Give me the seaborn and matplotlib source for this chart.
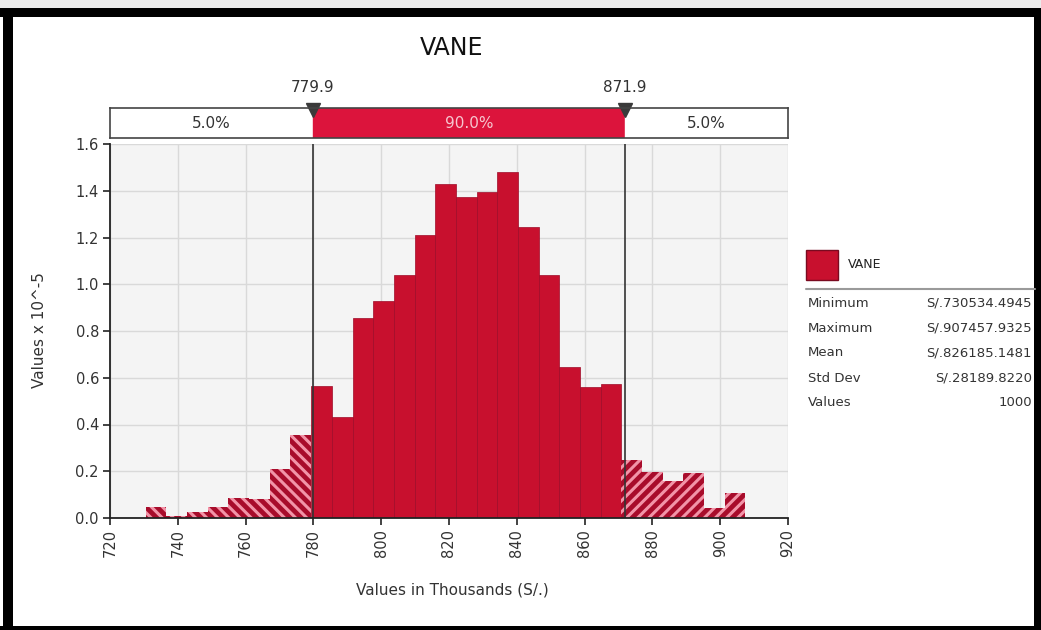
import matplotlib
matplotlib.use("Agg")
import matplotlib.pyplot as plt
from matplotlib.patches import Rectangle
from matplotlib.lines import Line2D
import seaborn as sns

bin_edges = [730.53, 736.63, 742.73, 748.84, 754.94, 761.04, 767.14, 773.24,
             779.34, 785.44, 791.54, 797.64, 803.75, 809.85, 815.95, 822.05,
             828.15, 834.25, 840.36, 846.46, 852.56, 858.66, 864.76, 870.86,
             876.97, 883.07, 889.17, 895.27, 901.37, 907.46]
densidad = [0.048, 0.008, 0.025, 0.045, 0.085, 0.080, 0.210, 0.355,
            0.565, 0.433, 0.855, 0.930, 1.040, 1.210, 1.430, 1.375,
            1.393, 1.479, 1.246, 1.040, 0.645, 0.560, 0.575, 0.250,
            0.198, 0.160, 0.191, 0.041, 0.106]
p5, p95 = 779.9, 871.9
banda_textos = ["5.0%", "90.0%", "5.0%"]
x_ticks = [720, 740, 760, 780, 800, 820, 840, 860, 880, 900, 920]
y_ticks = [0.0, 0.2, 0.4, 0.6, 0.8, 1.0, 1.2, 1.4, 1.6]
stats_nombres = ["Minimum", "Maximum", "Mean", "Std Dev", "Values"]
stats_valores = ["S/.730534.4945", "S/.907457.9325", "S/.826185.1481",
                 "S/.28189.8220", "1000"]

ROJO = "#C8102E"
ROJO_COLA = "#A80C2B"
ROJO_BANDA = "#DC143C"

sns.set_theme(style="whitegrid", rc={
    "axes.facecolor": "#F4F4F4",
    "grid.color": "#D9D9D9",
    "grid.linewidth": 1.0,
    "hatch.linewidth": 2.2,
})
plt.rcParams["font.family"] = ["DejaVu Sans"]

W, H = 1041, 630
fig = plt.figure(figsize=(W / 100, H / 100), dpi=100)


def caja(x0, y0, x1, y1):
    # coordenadas en pixeles (origen arriba a la izquierda) -> fraccion de figura
    return [x0 / W, 1 - y1 / H, (x1 - x0) / W, (y1 - y0) / H]


ax = fig.add_axes(caja(110, 144, 788, 518))
sns.histplot(x=bin_edges[:-1], weights=densidad, bins=bin_edges,
             color=ROJO, alpha=1, edgecolor="#9E0B28", linewidth=0.5, ax=ax)

for barra in ax.patches:
    centro = barra.get_x() + barra.get_width() / 2
    if centro < p5:
        barra.set_facecolor(ROJO_COLA)
        barra.set_edgecolor("#F294A8")
        barra.set_linewidth(0)
        barra.set_hatch("\\\\\\")
    elif centro > p95:
        barra.set_facecolor(ROJO_COLA)
        barra.set_edgecolor("#F294A8")
        barra.set_linewidth(0)
        barra.set_hatch("///")

ax.axvline(p5, color="#333333", lw=1.2)
ax.axvline(p95, color="#333333", lw=1.2)

ax.set_xlim(720, 920)
ax.set_ylim(0, 1.6)
ax.set_xticks(x_ticks)
ax.set_yticks(y_ticks)
ax.set_xticklabels([str(t) for t in x_ticks], rotation=90)
ax.set_yticklabels([f"{t:.1f}" for t in y_ticks])
ax.tick_params(axis="both", length=5, width=1.2, color="#222222",
               labelsize=10.5, labelcolor="#333333", pad=3)
ax.tick_params(axis="x", bottom=True)
ax.tick_params(axis="y", left=True)
ax.set_xlabel("")
ax.set_ylabel("")
for lado in ["top", "right"]:
    ax.spines[lado].set_visible(False)
for lado in ["left", "bottom"]:
    ax.spines[lado].set_color("#222222")
    ax.spines[lado].set_linewidth(1.3)

# banda de percentiles
axb = fig.add_axes(caja(110, 108, 788, 138), sharex=ax)
axb.set_facecolor("white")
axb.axvspan(720, p5, color="white")
axb.axvspan(p5, p95, color=ROJO_BANDA)
axb.axvspan(p95, 920, color="white")
axb.set_ylim(0, 1)
axb.grid(False)
axb.tick_params(left=False, bottom=False, labelleft=False, labelbottom=False)
for lado in axb.spines.values():
    lado.set_color("#444444")
    lado.set_linewidth(1.2)
axb.text((720 + p5) / 2, 0.5, banda_textos[0], ha="center", va="center",
         fontsize=11, color="#333333")
axb.text((p5 + p95) / 2, 0.5, banda_textos[1], ha="center", va="center",
         fontsize=11, color="#F6C6CF")
axb.text((p95 + 920) / 2, 0.5, banda_textos[2], ha="center", va="center",
         fontsize=11, color="#333333")
for p in (p5, p95):
    axb.plot(p, 0.95, marker="v", ms=10, color="#3A3A3A", clip_on=False)
    axb.text(p, 1.7, f"{p:.1f}", ha="center", va="center", fontsize=11,
             color="#333333")

fig.text(452 / W, 1 - 48 / H, "VANE", ha="center", va="center", fontsize=17,
         color="#111111")
fig.text(40 / W, 1 - 330 / H, "Values x 10^-5", ha="center", va="center",
         rotation=90, fontsize=11, color="#333333")
fig.text(452 / W, 1 - 590 / H, "Values in Thousands (S/.)", ha="center",
         va="center", fontsize=11, color="#333333")

# leyenda con estadisticas
fig.add_artist(Rectangle((806 / W, 1 - 280 / H), 32 / W, 30 / H,
                         transform=fig.transFigure, facecolor=ROJO,
                         edgecolor="#7A0A20", lw=1))
fig.text(848 / W, 1 - 264 / H, "VANE", ha="left", va="center", fontsize=9,
         color="#222222")
fig.add_artist(Line2D([806 / W, 1035 / W], [1 - 289 / H, 1 - 289 / H],
                      transform=fig.transFigure, color="#9A9A9A", lw=1.5))
for i, (nombre, valor) in enumerate(zip(stats_nombres, stats_valores)):
    y = 1 - (303 + 25 * i) / H
    fig.text(808 / W, y, nombre, ha="left", va="center", fontsize=9.5,
             color="#333333")
    fig.text(1032 / W, y, valor, ha="right", va="center", fontsize=9.5,
             color="#333333")

# marco negro de la captura
fig.add_artist(Rectangle((0, 1 - 8 / H), 1, 8 / H, transform=fig.transFigure,
                         facecolor="#EBEBEB", edgecolor="none"))
fig.add_artist(Rectangle((0, 1 - 17 / H), 1, 9 / H, transform=fig.transFigure,
                         facecolor="black", edgecolor="none"))
fig.add_artist(Rectangle((3 / W, 0), 10 / W, 1 - 8 / H,
                         transform=fig.transFigure, facecolor="black",
                         edgecolor="none"))
fig.add_artist(Rectangle((1034 / W, 0), 7 / W, 1 - 8 / H,
                         transform=fig.transFigure, facecolor="black",
                         edgecolor="none"))
fig.add_artist(Rectangle((0, 0), 1, 4 / H, transform=fig.transFigure,
                         facecolor="black", edgecolor="none"))

fig.savefig("out.png", dpi=100, facecolor="white")
